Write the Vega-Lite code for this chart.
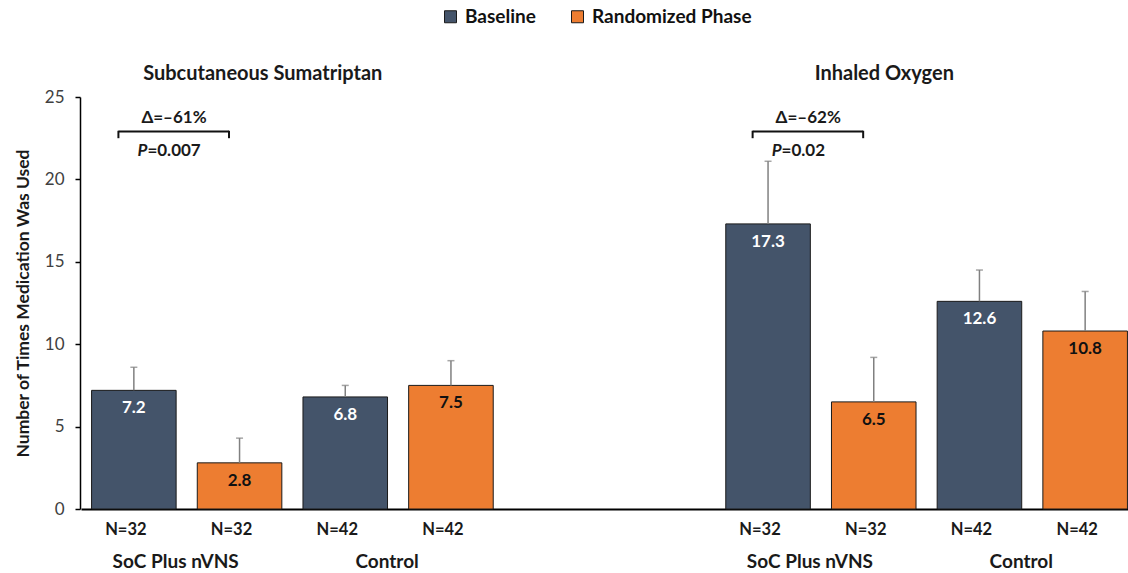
{
  "$schema": "https://vega.github.io/schema/vega-lite/v6.json",
  "width": 1048,
  "height": 412,
  "autosize": {"type": "none"},
  "padding": {"left": 80, "top": 97, "right": 0, "bottom": 64},
  "background": "white",
  "config": {"view": {"stroke": null}, "font": "Lato"},
  "datasets": {
    "bars": [
      {"group": "Subcutaneous Sumatriptan|SoC Plus nVNS", "phase": "Baseline", "value": 7.2, "upper": 8.6, "n": "N=32"},
      {"group": "Subcutaneous Sumatriptan|SoC Plus nVNS", "phase": "Randomized Phase", "value": 2.8, "upper": 4.3, "n": "N=32"},
      {"group": "Subcutaneous Sumatriptan|Control", "phase": "Baseline", "value": 6.8, "upper": 7.5, "n": "N=42"},
      {"group": "Subcutaneous Sumatriptan|Control", "phase": "Randomized Phase", "value": 7.5, "upper": 9.0, "n": "N=42"},
      {"group": "Inhaled Oxygen|SoC Plus nVNS", "phase": "Baseline", "value": 17.3, "upper": 21.1, "n": "N=32"},
      {"group": "Inhaled Oxygen|SoC Plus nVNS", "phase": "Randomized Phase", "value": 6.5, "upper": 9.2, "n": "N=32"},
      {"group": "Inhaled Oxygen|Control", "phase": "Baseline", "value": 12.6, "upper": 14.5, "n": "N=42"},
      {"group": "Inhaled Oxygen|Control", "phase": "Randomized Phase", "value": 10.8, "upper": 13.2, "n": "N=42"}
    ],
    "notes": [
      {"group": "Subcutaneous Sumatriptan|SoC Plus nVNS", "title": "Subcutaneous Sumatriptan", "delta": "Δ=–61%", "p": "=0.007"},
      {"group": "Inhaled Oxygen|SoC Plus nVNS", "title": "Inhaled Oxygen", "delta": "Δ=–62%", "p": "=0.02"}
    ]
  },
  "data": {"name": "bars"},
  "encoding": {
    "x": {
      "field": "group",
      "type": "nominal",
      "sort": null,
      "scale": {
        "domain": ["Subcutaneous Sumatriptan|SoC Plus nVNS", "Subcutaneous Sumatriptan|Control", "|", "Inhaled Oxygen|SoC Plus nVNS", "Inhaled Oxygen|Control"],
        "range": [1, 1058],
        "paddingInner": 0,
        "paddingOuter": 0
      },
      "axis": {
        "title": null,
        "labelExpr": "split(datum.value, '|')[1]",
        "labelAngle": 0,
        "ticks": false,
        "tickSize": 0,
        "labelPadding": 43,
        "labelOffset": -11,
        "labelFont": "Lato",
        "labelFontSize": 19,
        "labelFontWeight": "bold",
        "labelColor": "#1a1a1a",
        "domainColor": "black",
        "domainWidth": 2,
        "grid": false
      }
    }
  },
  "layer": [
    {
      "mark": {"type": "bar", "stroke": "#1a1a1a", "strokeWidth": 1},
      "encoding": {
        "xOffset": {"field": "phase", "type": "nominal", "scale": {"domain": ["Baseline", "Randomized Phase"], "paddingInner": 0.2, "paddingOuter": 0.1}},
        "y": {
          "field": "value",
          "type": "quantitative",
          "scale": {"domain": [0, 25], "nice": false},
          "axis": {
            "title": "Number of Times Medication Was Used",
            "titleFont": "Lato",
            "titleFontSize": 17.5,
            "titleFontWeight": "bold",
            "titleColor": "#1a1a1a",
            "titlePadding": 12,
            "values": [0, 5, 10, 15, 20, 25],
            "grid": false,
            "domainColor": "black",
            "domainWidth": 1.5,
            "tickColor": "black",
            "tickSize": 5,
            "tickWidth": 1.5,
            "labelFont": "Lato",
            "labelFontSize": 17,
            "labelColor": "#404040",
            "labelPadding": 11
          }
        },
        "color": {
          "field": "phase",
          "type": "nominal",
          "scale": {"domain": ["Baseline", "Randomized Phase"], "range": ["#44546A", "#ED7D31"]},
          "legend": {
            "orient": "none",
            "legendX": 361,
            "legendY": -90,
            "direction": "horizontal",
            "title": null,
            "symbolType": "square",
            "symbolSize": 144,
            "symbolStrokeColor": "#1a1a1a",
            "symbolStrokeWidth": 1,
            "labelFont": "Lato",
            "labelFontSize": 19,
            "labelFontWeight": "bold",
            "labelColor": "#111111",
            "labelOffset": 5,
            "columnPadding": 32
          }
        }
      }
    },
    {
      "mark": {"type": "rule", "color": "#808080", "strokeWidth": 1.5},
      "encoding": {
        "xOffset": {"field": "phase", "type": "nominal"},
        "y": {"field": "value", "type": "quantitative"},
        "y2": {"field": "upper"}
      }
    },
    {
      "mark": {"type": "tick", "color": "#808080", "thickness": 1.5, "size": 7},
      "encoding": {
        "xOffset": {"field": "phase", "type": "nominal"},
        "y": {"field": "upper", "type": "quantitative"}
      }
    },
    {
      "mark": {"type": "text", "dy": 18, "baseline": "middle", "font": "Lato", "fontSize": 17, "fontWeight": "bold"},
      "encoding": {
        "xOffset": {"field": "phase", "type": "nominal"},
        "y": {"field": "value", "type": "quantitative"},
        "text": {"field": "value", "type": "quantitative", "format": ".1f"},
        "color": {"condition": {"test": "datum.phase === 'Baseline'", "value": "white"}, "value": "#111111"}
      }
    },
    {
      "mark": {"type": "text", "dy": 21, "dx": -8, "baseline": "middle", "font": "Lato", "fontSize": 16.5, "fontWeight": "bold", "color": "#1a1a1a"},
      "encoding": {
        "xOffset": {"field": "phase", "type": "nominal"},
        "y": {"datum": 0, "type": "quantitative"},
        "text": {"field": "n", "type": "nominal"}
      }
    },
    {
      "data": {"name": "notes"},
      "mark": {"type": "rule", "color": "#111111", "strokeWidth": 2},
      "encoding": {
        "x": {"field": "group", "type": "nominal", "bandPosition": 0.177},
        "x2": {"field": "group", "bandPosition": 0.70},
        "y": {"datum": 22.9, "type": "quantitative"}
      }
    },
    {
      "data": {"name": "notes"},
      "mark": {"type": "rule", "color": "#111111", "strokeWidth": 2},
      "encoding": {
        "x": {"field": "group", "type": "nominal", "bandPosition": 0.177},
        "y": {"datum": 22.5, "type": "quantitative"},
        "y2": {"datum": 22.95}
      }
    },
    {
      "data": {"name": "notes"},
      "mark": {"type": "rule", "color": "#111111", "strokeWidth": 2},
      "encoding": {
        "x": {"field": "group", "type": "nominal", "bandPosition": 0.70},
        "y": {"datum": 22.5, "type": "quantitative"},
        "y2": {"datum": 22.95}
      }
    },
    {
      "data": {"name": "notes"},
      "mark": {"type": "text", "baseline": "middle", "font": "Lato", "fontSize": 17, "fontWeight": "bold", "color": "#1a1a1a"},
      "encoding": {
        "x": {"field": "group", "type": "nominal", "bandPosition": 0.44},
        "y": {"datum": 23.7, "type": "quantitative"},
        "text": {"field": "delta", "type": "nominal"}
      }
    },
    {
      "data": {"name": "notes"},
      "mark": {"type": "text", "baseline": "middle", "align": "right", "font": "Lato", "fontSize": 17, "fontWeight": "bold", "fontStyle": "italic", "color": "#1a1a1a", "text": "P"},
      "encoding": {
        "x": {"field": "group", "type": "nominal", "bandPosition": 0.314},
        "y": {"datum": 21.75, "type": "quantitative"}
      }
    },
    {
      "data": {"name": "notes"},
      "mark": {"type": "text", "baseline": "middle", "align": "left", "font": "Lato", "fontSize": 17, "fontWeight": "bold", "color": "#1a1a1a"},
      "encoding": {
        "x": {"field": "group", "type": "nominal", "bandPosition": 0.314},
        "y": {"datum": 21.75, "type": "quantitative"},
        "text": {"field": "p", "type": "nominal"}
      }
    },
    {
      "data": {"name": "notes"},
      "transform": [{"filter": "datum.title === 'Subcutaneous Sumatriptan'"}],
      "mark": {"type": "text", "baseline": "middle", "font": "Lato", "fontSize": 20, "fontWeight": "bold", "color": "#1a1a1a"},
      "encoding": {
        "x": {"field": "group", "type": "nominal", "bandPosition": 0.86},
        "y": {"datum": 26.4, "type": "quantitative"},
        "text": {"field": "title", "type": "nominal"}
      }
    },
    {
      "data": {"name": "notes"},
      "transform": [{"filter": "datum.title === 'Inhaled Oxygen'"}],
      "mark": {"type": "text", "baseline": "middle", "font": "Lato", "fontSize": 20, "fontWeight": "bold", "color": "#1a1a1a"},
      "encoding": {
        "x": {"field": "group", "type": "nominal", "bandPosition": 0.80},
        "y": {"datum": 26.4, "type": "quantitative"},
        "text": {"field": "title", "type": "nominal"}
      }
    }
  ]
}
